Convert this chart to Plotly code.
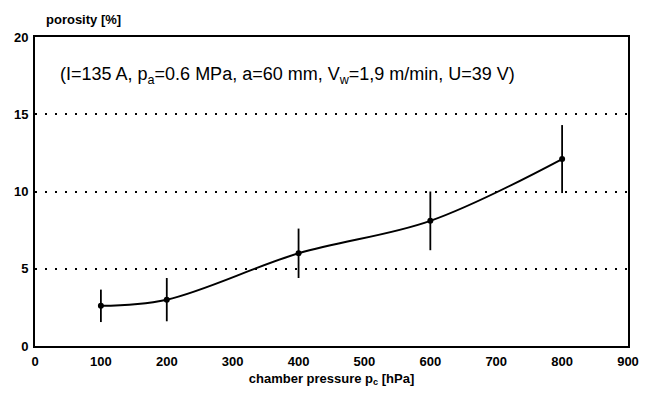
import plotly.graph_objects as go

pressure = [100, 200, 400, 600, 800]
porosity = [2.6, 3.0, 6.0, 8.1, 12.1]
err = [1.05, 1.4, 1.6, 1.9, 2.2]
x_ticks = [0, 100, 200, 300, 400, 500, 600, 700, 800, 900]
y_ticks = [0, 5, 10, 15, 20]

font_family = "Liberation Sans, Arial, sans-serif"

L, R, T, B = 35, 16, 37, 53
W, H = 651, 399
pw, ph = W - L - R, H - T - B

fig = go.Figure()
fig.add_trace(go.Scatter(
    x=pressure, y=porosity, mode="lines+markers",
    line=dict(color="black", width=2, shape="spline", smoothing=1.0),
    marker=dict(color="black", size=6),
    error_y=dict(type="data", array=err, visible=True, color="black",
                 thickness=1.8, width=0),
    showlegend=False,
))

fig.update_layout(
    width=W, height=H,
    margin=dict(l=L, r=R, t=T, b=B),
    plot_bgcolor="white", paper_bgcolor="white",
    font=dict(family=font_family, color="black", size=13),
    xaxis=dict(range=[0, 900], tickvals=x_ticks, showgrid=False,
               showline=True, linecolor="black", linewidth=2, mirror=True,
               zeroline=False, ticks="", ticklen=0, ticklabelstandoff=2,
               tickfont=dict(size=13, family=font_family, weight="bold"),
               title=dict(text="<b>chamber pressure p<sub>c</sub> [hPa]</b>",
                          font=dict(size=13), standoff=6)),
    yaxis=dict(range=[0, 20], tickvals=y_ticks, showgrid=True,
               gridcolor="black", griddash="2px,8px", gridwidth=1.5,
               showline=True, linecolor="black", linewidth=2, mirror=True,
               zeroline=False, ticks="", ticklen=0, ticklabelstandoff=2,
               tickfont=dict(size=13, family=font_family, weight="bold")),
    annotations=[
        dict(text="<b>porosity [%]</b>",
             x=(44 - L) / pw, xanchor="left", xref="paper",
             y=1 + (T - 19) / ph, yanchor="middle", yref="paper",
             showarrow=False, font=dict(size=13)),
        dict(text="(I=135 A, p<sub>a</sub>=0.6 MPa, a=60 mm, V<sub>w</sub>=1,9 m/min, U=39 V)",
             x=0.425, xanchor="center", xref="paper",
             y=17.5, yref="y", showarrow=False,
             font=dict(size=18)),
    ],
)
fig.write_html("out.html")
